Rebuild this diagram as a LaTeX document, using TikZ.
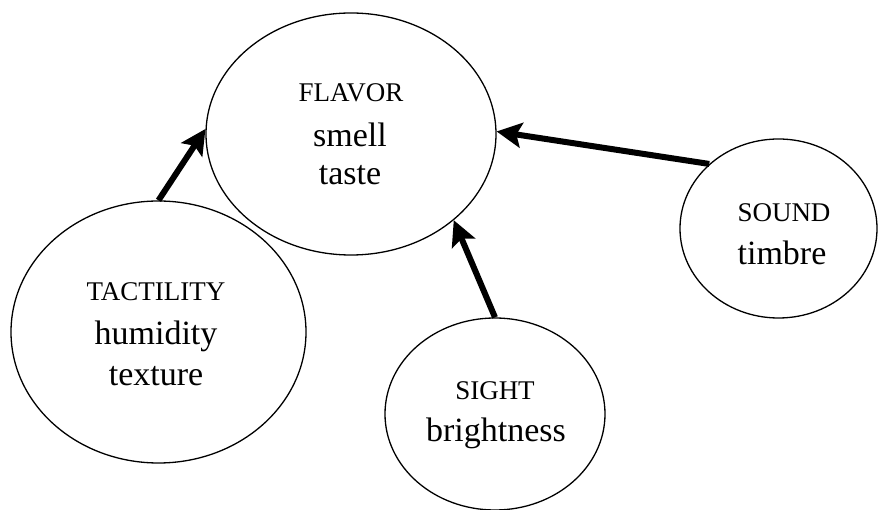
\documentclass[tikz,border=0pt]{standalone}
\usepackage{fontspec}
\setmainfont{Liberation Serif}
\usetikzlibrary{shapes.geometric,arrows.meta}
\begin{document}
\begin{tikzpicture}[x=1pt,y=-1pt,
  sense/.style={draw=black,line width=1.3pt,ellipse,inner sep=0pt},
  head/.style={anchor=base,inner sep=0pt,font=\fontsize{27}{30}\selectfont},
  attr/.style={anchor=base,inner sep=0pt,font=\fontsize{34}{38}\selectfont},
  link/.style={line width=6pt,-{Stealth[length=25pt,width=25pt,inset=5pt]}}]
\useasboundingbox (0,0) rectangle (879,510);

% senses
\node[sense,minimum width=290pt,minimum height=242pt] (flavor) at (351,134) {};
\node[sense,minimum width=295pt,minimum height=262pt] (tact) at (158.5,332) {};
\node[sense,minimum width=220pt,minimum height=192pt] (sight) at (495,414) {};
\node[sense,minimum width=197pt,minimum height=179pt] (sound) at (778.5,228.5) {};

% labels
\node[head] (flavorA) at (351,102) {FLAVOR};
\node[attr] (flavorB) at (350,147) {smell};
\node[attr] (flavorC) at (350,185) {taste};

\node[head] (tactA) at (156,301) {TACTILITY};
\node[attr] (tactB) at (156,345) {humidity};
\node[attr] (tactC) at (156,386) {texture};

\node[head] (sightA) at (495,400) {SIGHT};
\node[attr] (sightB) at (496,442) {brightness};

\node[head] (soundA) at (784,222) {SOUND};
\node[attr] (soundB) at (782,265) {timbre};

% connectors
\draw[link] (tact.north) -- (flavor.178);
\draw[link] (sight.north) -- (flavor.-40);
\draw[link] (sound.137) -- (flavor.1);
\end{tikzpicture}
\end{document}
